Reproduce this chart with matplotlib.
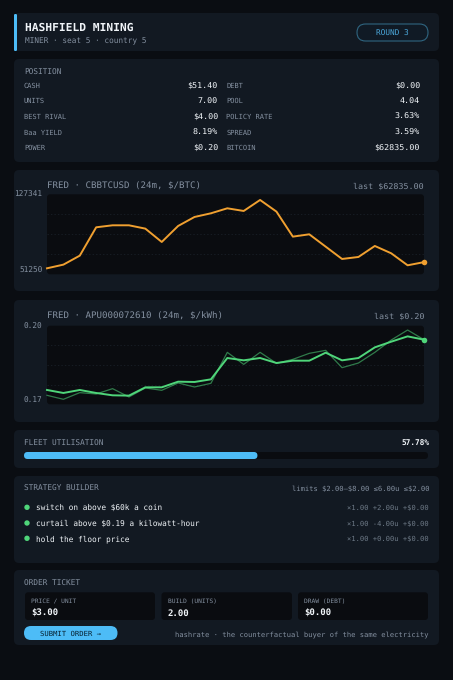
#!/usr/bin/env python3
"""Miner dashboard card: two FRED price charts plus position and order panels."""

import numpy as np
import matplotlib
matplotlib.use('Agg')
import matplotlib.pyplot as plt
from matplotlib.patches import FancyBboxPatch, Circle

W, H = 453, 680

# data
position_left = [('CASH', '$51.40'), ('UNITS', '7.00'), ('BEST RIVAL', '$4.00'),
                 ('Baa YIELD', '8.19%'), ('POWER', '$0.20')]
position_right = [('DEBT', '$0.00'), ('POOL', '4.04'), ('POLICY RATE', '3.63%'),
                  ('SPREAD', '3.59%'), ('BITCOIN', '$62835.00')]

btc_prices = [56957, 60444, 69004, 95953, 97856, 97856, 94685, 82004,
              97222, 105782, 109270, 114025, 111489, 121951, 110855, 87076,
              89296, 77565, 65834, 67736, 78199, 71224, 59810, 62835]
btc_limits = [51250, 127341]

power_prices = [.17547, .17432, .17547, .17432, .17343, .17331, .17648, .17648,
                .17864, .17852, .17953, .18767, .18678, .18767, .18576, .18665,
                .18665, .18970, .18678, .18767, .19174, .19390, .19593, .19466]
power_raw = [.17343, .17191, .17445, .17394, .17597, .17280, .17623, .17534,
             .17814, .17661, .17801, .18983, .18525, .18983, .18564, .18716,
             .18945, .19059, .18398, .18576, .18983, .19453, .19835, .19466]
power_limits = [0.17, 0.20]

utilisation = 57.78

rules = ['switch on above $60k a coin', 'curtail above $0.19 a kilowatt-hour',
         'hold the floor price']
rule_terms = ['×1.00 +2.00u +$0.00', '×1.00 -4.00u +$0.00', '×1.00 +0.00u +$0.00']

ticket_labels = ['PRICE / UNIT', 'BUILD (UNITS)', 'DRAW (DEBT)']
ticket_values = ['$3.00', '2.00', '$0.00']

# colours
BG = '#0a0d12'
PANEL = '#121922'
WELL = '#0a0c10'
TEXT = '#f0f4f8'
MUTED = '#8490a0'
ACCENT = '#4dbcf7'
ORANGE = '#f0a030'
GREEN = '#4fd67a'

plt.rcParams['font.family'] = ['DejaVu Sans Mono']
plt.rcParams['text.hinting'] = 'no_hinting'

fig = plt.figure(figsize=(W / 100, H / 100), dpi=100, facecolor=BG)

# full-page axes in pixel coordinates for the panels and text
page = fig.add_axes([0, 0, 1, 1], zorder=0)
page.set_xlim(0, W)
page.set_ylim(H, 0)
page.axis('off')


def rbox(x0, y0, x1, y1, r, color, **kw):
    p = FancyBboxPatch((x0 + r, y0 + r), x1 - x0 - 2 * r, y1 - y0 - 2 * r,
                       boxstyle='round,pad=%g,rounding_size=%g' % (r, r),
                       facecolor=color, edgecolor=kw.pop('edgecolor', 'none'),
                       linewidth=kw.pop('linewidth', 0), **kw)
    page.add_patch(p)
    return p


def label(x, y, s, size=5.6, color=MUTED, ha='left', weight='normal'):
    # baseline placement so a $ or ( does not shift the row; y is the cap-height middle
    page.text(x, y + 0.365 * size * 100 / 72, s, fontsize=size, color=color,
              ha=ha, va='baseline', fontweight=weight)


# panels
for y0, y1 in [(13, 51), (59, 162), (170, 291), (300, 422), (430, 468), (476, 563), (570, 645)]:
    rbox(14, y0, 439, y1, 5, PANEL)

# header
rbox(14, 14, 17, 51, 1.2, ACCENT)
label(25, 27, 'HASHFIELD MINING', size=8.1, color=TEXT, weight='bold')
label(25, 40.7, 'MINER · seat 5 · country 5')
rbox(357, 24, 428, 41, 8.5, '#101a25', edgecolor='#2f6580', linewidth=0.8)
label(392.5, 32.7, 'ROUND 3', color='#4aa6d8', ha='center')

# position table
label(24, 71.7, 'POSITION')
row_y = [85, 100.5, 116, 132, 147]
for y, (ln, lv), (rn, rv) in zip(row_y, position_left, position_right):
    label(24, y, ln, size=5)
    label(218, y, lv, size=6, color=TEXT, ha='right')
    label(226.5, y, rn, size=5)
    label(420, y, rv, size=6, color=TEXT, ha='right')


def price_chart(y0, y1, limits, tick_text):
    """Axes over a rounded dark well, with faint dashed quarter lines."""
    rbox(47, y0, 424, y1, 3, WELL)
    ax = fig.add_axes([47 / W, 1 - y1 / H, 377 / W, (y1 - y0) / H], zorder=1)
    ax.patch.set_alpha(0)
    for s in ax.spines.values():
        s.set_visible(False)
    ax.set_xlim(0, 23)
    ax.set_ylim(*limits)
    ax.set_xticks([])
    ax.set_yticks(limits)
    ax.set_yticklabels(tick_text)
    ax.tick_params(axis='y', length=0, pad=3.2, labelsize=5.6, labelcolor=MUTED)
    ax.get_yticklabels()[0].set_va('bottom')
    for level in np.linspace(limits[0], limits[1], 5)[1:-1]:
        ax.axhline(level, color='#1c232c', lw=0.5, ls=(0, (2, 3)), zorder=1)
    return ax


# bitcoin chart
label(47, 185.4, 'FRED · CBBTCUSD (24m, $/BTC)', size=6.6)
label(424, 185.4, 'last $62835.00', size=6, ha='right')
ax1 = price_chart(194.3, 274.3, btc_limits, ['51250', '127341'])
months = np.arange(len(btc_prices))
ax1.plot(months, btc_prices, color=ORANGE, lw=1.4, solid_joinstyle='round', clip_on=False, zorder=3)
ax1.plot(months[-1], btc_prices[-1], 'o', ms=4, color=ORANGE, mew=0, clip_on=False, zorder=4)

# power chart
label(47, 315.7, 'FRED · APU000072610 (24m, $/kWh)', size=6.6)
label(424, 315.7, 'last $0.20', size=6, ha='right')
ax2 = price_chart(325.7, 404.3, power_limits, ['0.17', '0.20'])
ax2.plot(months, power_raw, color=GREEN, lw=0.9, alpha=0.55, clip_on=False, zorder=2)
ax2.plot(months, power_prices, color=GREEN, lw=1.4, solid_joinstyle='round', clip_on=False, zorder=3)
ax2.plot(months[-1], power_prices[-1], 'o', ms=4, color=GREEN, mew=0, clip_on=False, zorder=4)

# utilisation bar
label(24, 442.7, 'FLEET UTILISATION')
label(429, 442.7, '%.2f%%' % utilisation, color=TEXT, ha='right', weight='bold')
rbox(24, 452, 428, 459, 3.5, WELL)
rbox(24, 452, 24 + 404 * utilisation / 100, 459, 3.5, ACCENT)

# strategy builder
label(24, 488.3, 'STRATEGY BUILDER')
label(429, 488.3, 'limits $2.00–$8.00 ≤6.00u ≤$2.00', size=5.1, ha='right')
for y, rule, terms in zip([507.3, 523, 538.3], rules, rule_terms):
    page.add_patch(Circle((27, y), 2.7, facecolor=GREEN, edgecolor='none'))
    label(35.5, y, rule, color=TEXT)
    label(429, y, terms, size=5.1, color='#6d7986', ha='right')

# order ticket
label(24, 583, 'ORDER TICKET')
for x0, x1, name, val in zip([25, 161.5, 298], [155, 292, 428], ticket_labels, ticket_values):
    rbox(x0, 592.3, x1, 620, 3, WELL)
    label(x0 + 6.3, 601, name, size=4.5)
    label(x0 + 6.3, 612.3, val, size=6.5, color=TEXT, weight='bold')
rbox(24, 626, 117.5, 640, 7, ACCENT)
label(70.5, 633.3, 'SUBMIT ORDER →', size=5.2, color='#06202f', ha='center')
label(429, 633.5, 'hashrate · the counterfactual buyer of the same electricity', size=5.1, ha='right')

fig.savefig('out.png', dpi=100, facecolor=BG)
